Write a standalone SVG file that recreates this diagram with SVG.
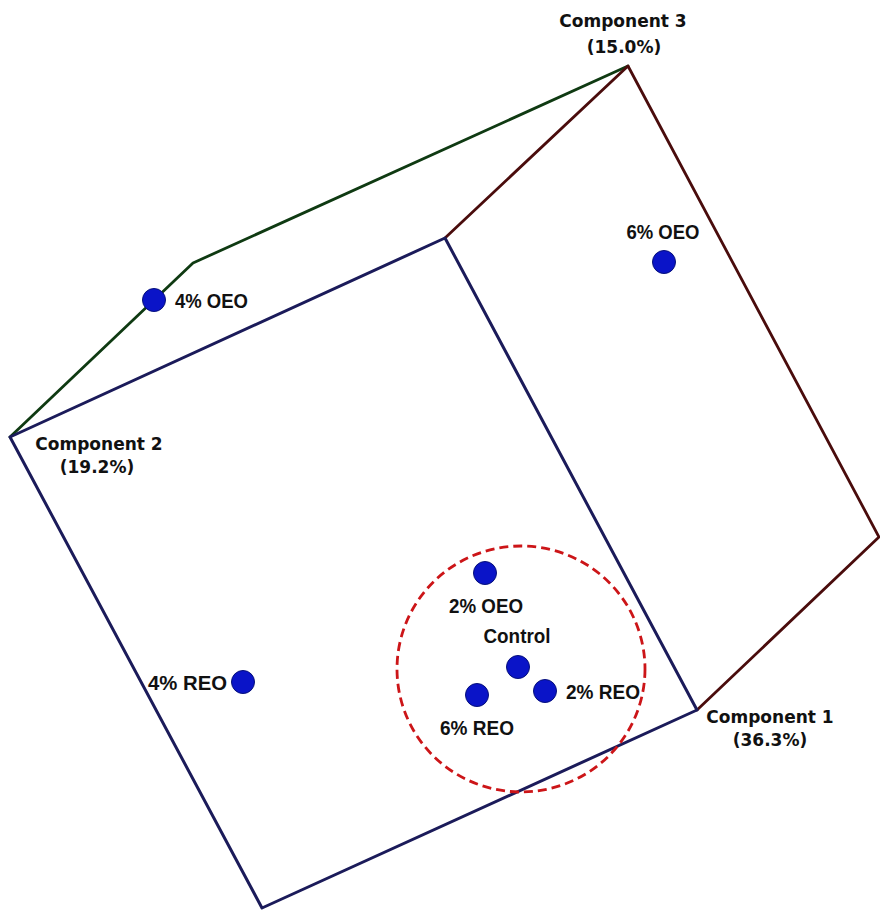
<svg xmlns="http://www.w3.org/2000/svg" width="880" height="911" viewBox="0 0 880 911">
<style>
.navy{stroke:#1b1b5a;stroke-width:3;fill:none;stroke-linejoin:round;stroke-linecap:round}
.brown{stroke:#4a0c0c;stroke-width:2.8;fill:none;stroke-linejoin:round;stroke-linecap:round}
.green{stroke:#0f3a12;stroke-width:2.8;fill:none;stroke-linejoin:round;stroke-linecap:round}
.pt{fill:#0a14c8;stroke:#06107a;stroke-width:1}
.lbl{font-family:"Liberation Sans",Arial,sans-serif;font-weight:bold;font-size:21px;fill:#111}
.axis{font-family:"DejaVu Sans",Verdana,sans-serif;font-weight:bold;font-size:17px;fill:#111;text-anchor:middle}
.ring{fill:none;stroke:#cc1518;stroke-width:2.8;stroke-dasharray:9 5}
</style>
<rect width="880" height="911" fill="#ffffff"/>
<g id="connectors">
<polyline class="green" points="10,437 193,263 628,66"/>
<polyline class="brown" points="445,238 628,66 879,537 697,710"/>
<polygon class="navy" points="10,437 445,238 697,710 262,908"/>
<ellipse class="ring" cx="521" cy="669" rx="124" ry="123"/>
</g>
<g id="axis-component-1"><text class="axis" x="770" y="723">Component 1</text><text class="axis" x="770" y="746">(36.3%)</text></g>
<g id="axis-component-2"><text class="axis" x="99" y="450">Component 2</text><text class="axis" x="97" y="473">(19.2%)</text></g>
<g id="axis-component-3"><text class="axis" x="623" y="27">Component 3</text><text class="axis" x="624" y="53">(15.0%)</text></g>
<g id="pt-4oeo"><circle class="pt" cx="154" cy="300" r="11.5"/><text class="lbl" x="175" y="308" textLength="73" lengthAdjust="spacingAndGlyphs">4% OEO</text></g>
<g id="pt-6oeo"><circle class="pt" cx="664" cy="262" r="11.5"/><text class="lbl" x="663" y="239" text-anchor="middle" textLength="73" lengthAdjust="spacingAndGlyphs">6% OEO</text></g>
<g id="pt-4reo"><circle class="pt" cx="243" cy="682" r="11.5"/><text class="lbl" x="227" y="690" text-anchor="end" textLength="79" lengthAdjust="spacingAndGlyphs">4% REO</text></g>
<g id="pt-2oeo"><circle class="pt" cx="485" cy="573" r="11.5"/><text class="lbl" x="486" y="613" text-anchor="middle" textLength="74" lengthAdjust="spacingAndGlyphs">2% OEO</text></g>
<g id="pt-control"><circle class="pt" cx="518" cy="667" r="11.5"/><text class="lbl" x="517" y="643" text-anchor="middle" textLength="67" lengthAdjust="spacingAndGlyphs">Control</text></g>
<g id="pt-2reo"><circle class="pt" cx="545" cy="691" r="11.5"/><text class="lbl" x="566" y="699" textLength="74" lengthAdjust="spacingAndGlyphs">2% REO</text></g>
<g id="pt-6reo"><circle class="pt" cx="477" cy="695" r="11.5"/><text class="lbl" x="477" y="735" text-anchor="middle" textLength="74" lengthAdjust="spacingAndGlyphs">6% REO</text></g>
</svg>
